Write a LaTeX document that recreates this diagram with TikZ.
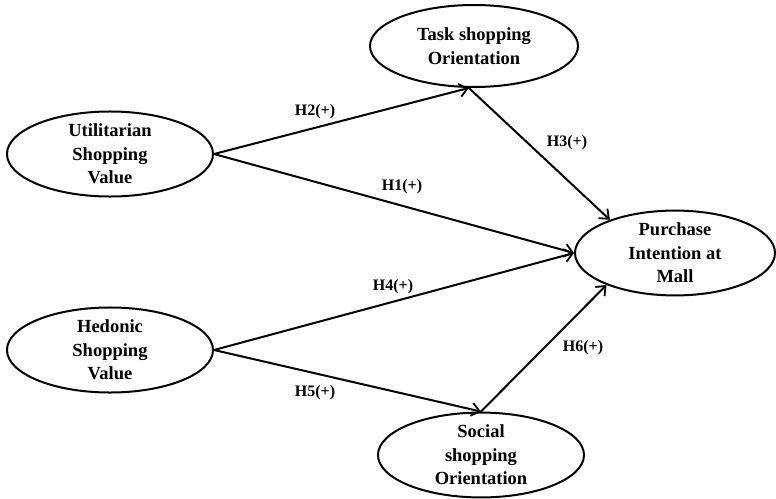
\documentclass[tikz,border=0pt]{standalone}
\usepackage{fontspec}
\setmainfont{Liberation Serif}
\usetikzlibrary{shapes.geometric,arrows.meta}
\begin{document}
\begin{tikzpicture}[x=1pt,y=-1pt,
  construct/.style={ellipse,draw,line width=2pt,inner sep=0pt,align=center,
    font=\fontsize{18.5}{23.5}\selectfont\bfseries},
  path/.style={line width=2pt,-{Straight Barb[length=8pt,width=13pt,line width=1.8pt]}},
  hyp/.style={font=\fontsize{16}{18}\selectfont\bfseries,inner sep=0pt}]
\useasboundingbox (0,0) rectangle (776,498);
\node[construct,minimum width=206pt,minimum height=79pt] (U) at (110,154) {Utilitarian\\Shopping\\Value};
\node[construct,minimum width=206pt,minimum height=83pt] (H) at (110,350) {Hedonic\\Shopping\\Value};
\node[construct,minimum width=208pt,minimum height=82pt] (T) at (474,46) {Task shopping\\Orientation};
\node[construct,minimum width=200pt,minimum height=82pt] (P) at (675,253) {Purchase\\Intention at\\Mall};
\node[construct,minimum width=206pt,minimum height=82pt] (S) at (481,455) {Social\\shopping\\Orientation};
\coordinate (Tb) at (T.263);
\coordinate (St) at (S.90);
\draw[path] (U.east) -- (Tb);
\draw[path] (U.east) -- (P.west);
\draw[path] (H.east) -- (P.west);
\draw[path] (H.east) -- (St);
\draw[path] (Tb) -- (P.153);
\draw[path] (St) -- (P.205);
\node[hyp] (h2) at (315,112) {H2(+)};
\node[hyp] (h1) at (402,187) {H1(+)};
\node[hyp] (h3) at (567,143) {H3(+)};
\node[hyp] (h4) at (393,287) {H4(+)};
\node[hyp] (h5) at (315,393) {H5(+)};
\node[hyp] (h6) at (583,348) {H6(+)};
\end{tikzpicture}
\end{document}
